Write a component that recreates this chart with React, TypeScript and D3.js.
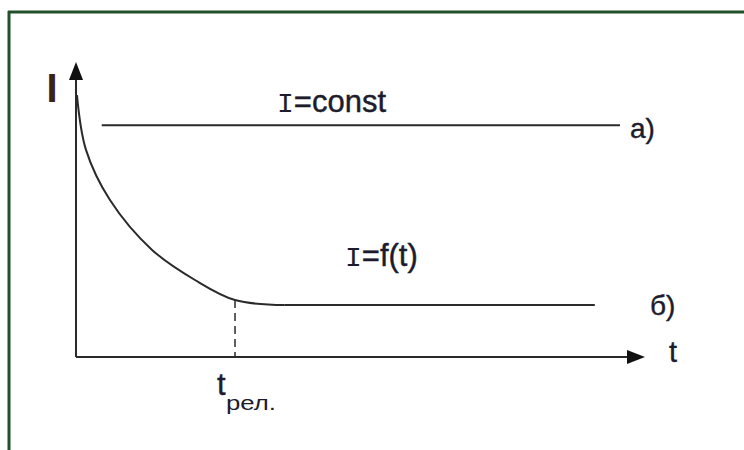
import React from "react";
import * as d3 from "d3";

// Data (normalized units: t along horizontal axis, I along vertical axis)
const curveT: number[] = [0.0017, 0.0175, 0.0594, 0.133, 0.208, 0.278, 0.365];
const curveI: number[] = [0.888, 0.702, 0.532, 0.363, 0.261, 0.193, 0.176];
const flatT: number[] = [0.365, 0.907];
const flatI: number[] = [0.176, 0.176];
const constT: number[] = [0.045, 0.951];
const constI: number[] = [0.786, 0.786];
const tRel: number = 0.278;
const labels = { yAxis: "I", xAxis: "t", a: "а)", b: "б)", constEq: "=const", funcEq: "=f(t)", sym: "I", tRelMain: "t", tRelSub: "рел." };

const W = 744;
const H = 450;

export default function App() {
  const x = d3.scaleLinear().domain([0, 1]).range([76, 648]);
  const y = d3.scaleLinear().domain([0, 1]).range([357, 62]);

  const curvePts: [number, number][] = curveT.map((t, i) => [t, curveI[i]]);
  const flatPts: [number, number][] = flatT.map((t, i) => [t, flatI[i]]);
  const constPts: [number, number][] = constT.map((t, i) => [t, constI[i]]);

  const line = d3
    .line<[number, number]>()
    .x((d) => x(d[0]))
    .y((d) => y(d[1]))
    .curve(d3.curveCatmullRom.alpha(0.5));

  const straight = d3
    .line<[number, number]>()
    .x((d) => x(d[0]))
    .y((d) => y(d[1]));

  const idx = curveT.indexOf(tRel);
  const iAtRel = idx >= 0 ? curveI[idx] : 0.193;

  const textColor = "#1c1c2c";
  const lineColor = "#2a2a2a";
  const x0 = x(0);
  const y0 = y(0);
  const xEnd = x(1);
  const yEnd = y(1);
  const mono = "'Liberation Mono', 'DejaVu Sans Mono', monospace";
  const txtStroke = { stroke: textColor, strokeWidth: 0.4 };

  return (
    <svg
      width={W}
      height={H}
      style={{ position: "absolute", left: 0, top: 0, background: "#fff" }}
      fontFamily="'Liberation Sans', Arial, sans-serif"
    >
      <rect x={0} y={0} width={W} height={H} fill="#fff" />
      {/* frame */}
      <line x1={8} y1={12} x2={W} y2={12} stroke="#23502a" strokeWidth={3} />
      <line x1={9} y1={11} x2={9} y2={H} stroke="#23502a" strokeWidth={3} />

      {/* axes */}
      <line x1={x0} y1={y0} x2={x0} y2={yEnd + 14} stroke={lineColor} strokeWidth={2} />
      <path d={`M${x0},${yEnd} L${x0 - 7},${yEnd + 18} L${x0 + 7},${yEnd + 18} Z`} fill="#111" />
      <line x1={x0} y1={y0} x2={xEnd - 14} y2={y0} stroke={lineColor} strokeWidth={2} />
      <path d={`M${xEnd - 3},${y0} L${xEnd - 21},${y0 - 7} L${xEnd - 21},${y0 + 7} Z`} fill="#111" />

      {/* axis labels */}
      <text x={52} y={102} fontSize={40} fontWeight="bold" fill="#3a2416" textAnchor="middle">
        {labels.yAxis}
      </text>
      <text x={673} y={362} fontSize={29} fill={textColor} textAnchor="middle" {...txtStroke}>
        {labels.xAxis}
      </text>

      {/* line a */}
      <path d={straight(constPts) || ""} fill="none" stroke={lineColor} strokeWidth={2} />
      {/* curve б */}
      <path d={line(curvePts) || ""} fill="none" stroke={lineColor} strokeWidth={2} />
      <path d={straight(flatPts) || ""} fill="none" stroke={lineColor} strokeWidth={2} />

      {/* dashed at t_rel */}
      <line
        x1={x(tRel)}
        y1={y(iAtRel)}
        x2={x(tRel)}
        y2={y0}
        stroke={lineColor}
        strokeWidth={1.5}
        strokeDasharray="8,5"
      />

      {/* labels */}
      <text x={277} y={112} fontSize={31} fill={textColor} {...txtStroke}>
        <tspan fontFamily={mono} fontSize={28} strokeWidth={0}>{labels.sym}</tspan>
        <tspan>{labels.constEq}</tspan>
      </text>
      <text x={345} y={266} fontSize={31} fill={textColor} {...txtStroke}>
        <tspan fontFamily={mono} fontSize={28} strokeWidth={0}>{labels.sym}</tspan>
        <tspan>{labels.funcEq}</tspan>
      </text>
      <text x={630} y={138} fontSize={28} fill={textColor} {...txtStroke}>
        {labels.a}
      </text>
      <text x={650} y={315} fontSize={28} fill={textColor} {...txtStroke}>
        {labels.b}
      </text>
      <text x={217} y={395} fontSize={31} fill={textColor} {...txtStroke}>
        {labels.tRelMain}
      </text>
      <text x={226} y={410} fontSize={21} fill={textColor} textLength={50} lengthAdjust="spacingAndGlyphs">
        {labels.tRelSub}
      </text>
    </svg>
  );
}
